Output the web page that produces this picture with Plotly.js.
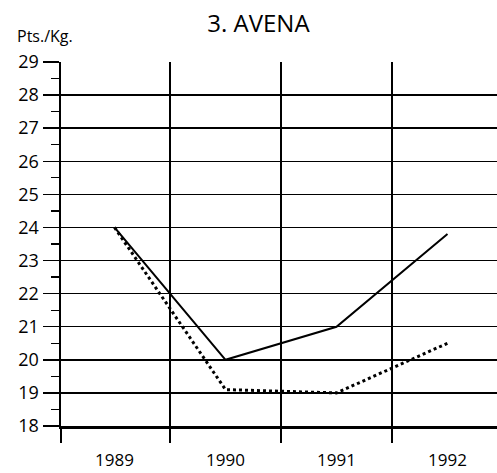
<!DOCTYPE html>
<html>
<head>
<meta charset="utf-8">
<script src="https://cdn.plot.ly/plotly-3.0.1.min.js"></script>
<style>html,body{margin:0;padding:0;background:#fff;}#chart{width:497px;height:473px;}</style>
</head>
<body>
<div id="chart"></div>
<script>
const years = ['1989', '1990', '1991', '1992'];
const yearPos = [0, 1, 2, 3];
const serieSolid = [24.0, 20.0, 21.0, 23.8];
const serieDotted = [24.0, 19.1, 19.0, 20.5];
const yTicks = [18, 19, 20, 21, 22, 23, 24, 25, 26, 27, 28, 29];

const traces = [
  {x: yearPos, y: serieSolid, type: 'scatter', mode: 'lines',
   line: {color: '#000', width: 2}, showlegend: false, hoverinfo: 'skip'},
  {x: yearPos, y: serieDotted, type: 'scatter', mode: 'lines',
   line: {color: '#000', width: 3, dash: 'dot'}, showlegend: false, hoverinfo: 'skip'}
];

const layout = {
  width: 497, height: 473,
  margin: {l: 61, r: 0, t: 62, b: 47},
  paper_bgcolor: '#fff', plot_bgcolor: '#fff',
  font: {family: 'Open Sans, sans-serif', color: '#000'},
  title: {text: '3. AVENA', font: {size: 24, color: '#000'}, x: 0.52, xanchor: 'center', y: 0.95, yanchor: 'middle'},
  xaxis: {
    range: [-0.482, 3.446],
    tickmode: 'array', tickvals: yearPos, ticktext: years,
    ticks: 'outside', ticklen: 17, tickcolor: 'rgba(0,0,0,0)',
    showgrid: false, zeroline: false,
    showline: true, linecolor: '#000', linewidth: 3,
    tickfont: {size: 17, color: '#000'},
    minor: {tickmode: 'array', tickvals: [-0.482, 0.5, 1.5, 2.5], ticks: 'outside', ticklen: 14, tickwidth: 2, tickcolor: '#000',
            showgrid: true, gridcolor: '#000', gridwidth: 1.8}
  },
  yaxis: {
    range: [18, 29],
    tickmode: 'array', tickvals: yTicks,
    ticks: 'outside', ticklen: 16, tickwidth: 1.5, tickcolor: '#000',
    showgrid: true, gridcolor: '#000', gridwidth: 1.5,
    zeroline: false,
    showline: true, linecolor: '#000', linewidth: 2.5,
    tickfont: {size: 18, color: '#000'},
    minor: {dtick: 0.5, ticks: 'outside', ticklen: 8, tickwidth: 1.2, tickcolor: '#000', showgrid: false}
  },
  annotations: [
    {text: 'Pts./Kg.', xref: 'paper', yref: 'paper', x: -0.105, y: 1.036, xanchor: 'left', yanchor: 'bottom',
     showarrow: false, font: {size: 16, color: '#000'}}
  ]
};

Plotly.newPlot('chart', traces, layout, {staticPlot: true, displayModeBar: false});
</script>
</body>
</html>
